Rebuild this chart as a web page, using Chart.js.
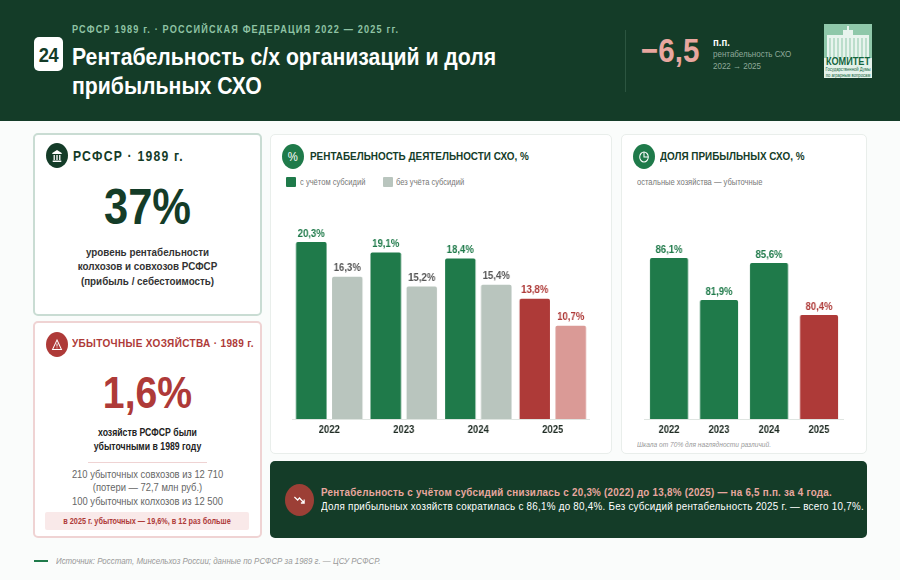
<!DOCTYPE html>
<html lang="ru">
<head>
<meta charset="utf-8">
<title>Рентабельность с/х организаций</title>
<script src="https://cdn.jsdelivr.net/npm/chart.js@4"></script>
<style>
  * { box-sizing: border-box; margin: 0; padding: 0; }
  html, body { width: 900px; height: 580px; overflow: hidden; background: #fafcfb; font-family: "Liberation Sans", Arial, sans-serif; }
  .abs { position: absolute; }
  .c { text-align: center; }
  /* в оригинале всё сжато по горизонтали */
  .sq { transform: scaleX(.87); transform-origin: 0 0; white-space: nowrap; }
  .sq.c { transform-origin: 50% 0; }
  header { position: absolute; left: 0; top: 0; width: 900px; height: 121px; background: #143c28; }
  .card { position: absolute; background: #fff; border-radius: 5px; }
  .dot { position: absolute; width: 22px; height: 25px; border-radius: 50%; display: flex; align-items: center; justify-content: center; }
  .wrap { position: absolute; transform-origin: 0 0; }
  canvas { display: block; }
</style>
</head>
<body>
<header></header>
<div class="abs sq" style="left:72px;top:23px;font-size:10.5px;font-weight:bold;letter-spacing:1.34px;color:#8fc3a4">РСФСР 1989 г. · РОССИЙСКАЯ ФЕДЕРАЦИЯ 2022 — 2025 гг.</div>
<div class="abs" style="left:34px;top:37px;width:29px;height:34px;background:#fff;border-radius:5px"></div>
<div class="abs c sq" style="left:34px;top:37px;width:29px;height:34px;line-height:35px;font-size:21px;font-weight:bold;color:#143c28;letter-spacing:-.5px">24</div>
<div class="abs sq" style="left:72px;top:42px;font-size:24.4px;line-height:29px;font-weight:bold;color:#fff">Рентабельность с/х организаций и доля<br>прибыльных СХО</div>
<div class="abs" style="left:625px;top:30px;width:1px;height:62px;background:#2c5540"></div>
<div class="abs sq" style="left:641px;top:31px;font-size:34px;font-weight:bold;color:#e8a79f">−6,5</div>
<div class="abs sq" style="left:713px;top:36px;font-size:11px;font-weight:bold;color:#fff">п.п.</div>
<div class="abs sq" style="left:713px;top:48px;font-size:9.2px;line-height:12px;color:#8fa99a">рентабельность СХО<br>2022 → 2025</div>
<div class="abs" style="left:824px;top:24px;width:48px;height:54px;background:#8fc8aa;overflow:hidden">
  <svg width="48" height="34" class="abs" style="left:0;top:0">
    <rect x="3" y="11" width="42" height="23" fill="#e8f4ee"/>
    <rect x="19" y="6" width="10" height="6" fill="#e8f4ee"/>
    <rect x="23" y="2" width="2" height="5" fill="#e8f4ee"/>
    <path d="M6 14v20M10 14v20M14 14v20M18 14v20M22 14v20M26 14v20M30 14v20M34 14v20M38 14v20M42 14v20" stroke="#8fc8aa" stroke-width="1"/>
  </svg>
  <div class="abs" style="left:0;top:34px;width:48px;height:20px;background:#e4f2ea"></div>
  <div class="abs c sq" style="left:-12px;top:31px;width:72px;font-size:10.5px;font-weight:bold;color:#14653f">КОМИТЕТ</div>
  <div class="abs c sq" style="left:-12px;top:43px;width:72px;font-size:4.8px;line-height:5.5px;color:#14653f">Государственной Думы<br>по аграрным вопросам</div>
</div>

<!-- левая колонка -->
<div class="card" style="left:33px;top:133px;width:229px;height:183px;border:2px solid #c9dcd3"></div>
<div class="dot" style="left:45.5px;top:143px;background:#143c28">
  <svg width="12" height="14" viewBox="0 0 14 14" preserveAspectRatio="none" fill="#fff"><path d="M7 1 1.5 4v1h11V4zM3 6h1.5v5H3zM6.2 6h1.6v5H6.2zM9.5 6H11v5H9.5zM2 11.5h10V13H2z"/></svg>
</div>
<div class="abs sq" style="left:73px;top:148px;font-size:14px;font-weight:bold;letter-spacing:1.4px;color:#143c28">РСФСР · 1989 г.</div>
<div class="abs c sq" style="left:33px;top:178px;width:229px;font-size:50px;font-weight:bold;color:#143c28">37%</div>
<div class="abs c sq" style="left:33px;top:245px;width:229px;font-size:11.3px;line-height:14.3px;font-weight:bold;color:#333">уровень рентабельности<br>колхозов и совхозов РСФСР<br>(прибыль / себестоимость)</div>

<div class="card" style="left:33px;top:321px;width:229px;height:217px;border:2px solid #efd3d3"></div>
<div class="dot" style="left:45.5px;top:332px;background:#ae3a38">
  <svg width="12" height="14" viewBox="0 0 14 14" preserveAspectRatio="none" fill="none" stroke="#fff" stroke-width="1.1"><path d="M7 2 1.8 11.5h10.4z"/><path d="M7 5.5v3M7 9.5v.8"/></svg>
</div>
<div class="abs sq" style="left:72px;top:337px;font-size:11.5px;font-weight:bold;letter-spacing:.4px;color:#ae3a38">УБЫТОЧНЫЕ ХОЗЯЙСТВА · 1989 г.</div>
<div class="abs c sq" style="left:33px;top:367px;width:229px;font-size:45px;font-weight:bold;color:#ae3a38">1,6%</div>
<div class="abs c sq" style="left:33px;top:426px;width:229px;font-size:10px;line-height:13.5px;font-weight:bold;color:#222">хозяйств РСФСР были<br>убыточными в 1989 году</div>
<div class="abs" style="left:88px;top:462px;width:119px;height:1px;background:#efd3d3"></div>
<div class="abs c sq" style="left:33px;top:468px;width:229px;font-size:10.8px;line-height:13.4px;color:#666">210 убыточных совхозов из 12 710<br>(потери — 72,7 млн руб.)<br>100 убыточных колхозов из 12 500</div>
<div class="abs" style="left:45px;top:512px;width:204px;height:18px;background:#f9e9e9;border-radius:2px"></div>
<div class="abs c sq" style="left:45px;top:512px;width:204px;height:18px;line-height:18px;font-size:8.4px;font-weight:bold;color:#ae3a38">в 2025 г. убыточных — 19,6%, в 12 раз больше</div>

<!-- карточка рентабельности -->
<div class="card" style="left:270px;top:134px;width:342px;height:320px;border:1px solid #e9eeeb"></div>
<div class="dot" style="left:282px;top:144px;background:#1f7a4a"><span class="sq" style="display:inline-block;color:#fff;font-size:13px;transform-origin:50% 50%">%</span></div>
<div class="abs sq" style="left:310px;top:150px;font-size:11.4px;font-weight:bold;color:#143c28">РЕНТАБЕЛЬНОСТЬ ДЕЯТЕЛЬНОСТИ СХО, %</div>
<div class="abs" style="left:286px;top:177px;width:10px;height:10px;border-radius:1px;background:#1f7a4a"></div>
<div class="abs sq" style="left:300px;top:177px;font-size:8.7px;color:#777">с учётом субсидий</div>
<div class="abs" style="left:383px;top:177px;width:10px;height:10px;border-radius:1px;background:#b9c5be"></div>
<div class="abs sq" style="left:396px;top:177px;font-size:8.7px;color:#777">без учёта субсидий</div>
<div class="wrap" style="left:292px;top:201px;transform:scaleX(.8688)"><canvas id="marginChart" width="343" height="239" style="width:343px;height:239px"></canvas></div>

<!-- карточка доли прибыльных -->
<div class="card" style="left:621px;top:134px;width:246px;height:320px;border:1px solid #e9eeeb"></div>
<div class="dot" style="left:633px;top:144px;background:#1f7a4a">
  <svg width="12" height="14" viewBox="0 0 14 14" preserveAspectRatio="none" fill="none" stroke="#fff" stroke-width="1.2"><circle cx="7" cy="7" r="5"/><path d="M7 2v5h5"/></svg>
</div>
<div class="abs sq" style="left:660px;top:150px;font-size:11.4px;font-weight:bold;color:#143c28">ДОЛЯ ПРИБЫЛЬНЫХ СХО, %</div>
<div class="abs sq" style="left:637px;top:177px;font-size:8.7px;color:#777">остальные хозяйства — убыточные</div>
<div class="wrap" style="left:644px;top:199px;transform:scaleX(.8696)"><canvas id="shareChart" width="230" height="241" style="width:230px;height:241px"></canvas></div>
<div class="abs sq" style="left:637px;top:440px;font-size:7.6px;font-style:italic;color:#999">Шкала от 70% для наглядности различий.</div>

<!-- вывод -->
<div class="card" style="left:270px;top:461px;width:597px;height:77px;background:#143c28"></div>
<div class="dot" style="left:285px;top:484px;width:29px;height:32px;background:#9c3f36">
  <svg width="13" height="14" viewBox="0 0 14 14" preserveAspectRatio="none" fill="none" stroke="#fff" stroke-width="1.3"><path d="M1.5 4 5 7l2-2 5 5M12 6.5V10H8.5"/></svg>
</div>
<div class="abs sq" style="left:321px;top:486px;font-size:11.3px;font-weight:bold;letter-spacing:.28px;color:#e8a79f">Рентабельность с учётом субсидий снизилась с 20,3% (2022) до 13,8% (2025) — на 6,5 п.п. за 4 года.</div>
<div class="abs sq" style="left:321px;top:500px;font-size:11.3px;letter-spacing:.29px;color:#fff">Доля прибыльных хозяйств сократилась с 86,1% до 80,4%. Без субсидий рентабельность 2025 г. — всего 10,7%.</div>

<div class="abs" style="left:34px;top:560px;width:14px;height:2px;background:#1f7a4a"></div>
<div class="abs sq" style="left:56px;top:556px;font-size:9.1px;font-style:italic;color:#999">Источник: Росстат, Минсельхоз России; данные по РСФСР за 1989 г. — ЦСУ РСФСР.</div>

<script>
// значения с картинки
const years = ["2022", "2023", "2024", "2025"]
const withSubsidy = [20.3, 19.1, 18.4, 13.8]
const withoutSubsidy = [16.3, 15.2, 15.4, 10.7]
const profitableShare = [86.1, 81.9, 85.6, 80.4]

const green = "#1f7a4a"
const grey = "#b9c5be"
const red = "#ae3a38"
const paleRed = "#da9a96"

// подписи над столбиками
const barLabels = {
  id: "barLabels",
  afterDatasetsDraw(chart) {
    const ctx = chart.ctx
    ctx.save()
    ctx.font = "bold 11px 'Liberation Sans', Arial, sans-serif"
    ctx.textAlign = "center"
    ctx.textBaseline = "bottom"
    chart.data.datasets.forEach((ds, i) => {
      chart.getDatasetMeta(i).data.forEach((bar, j) => {
        ctx.fillStyle = ds.labelColors[j]
        ctx.fillText(ds.data[j].toFixed(1).replace(".", ",") + "%", bar.x, bar.y - 3)
      })
    })
    ctx.restore()
  },
}

function makeChart(id, datasets, yMin, yMax) {
  return new Chart(document.getElementById(id), {
    type: "bar",
    data: { labels: years, datasets },
    plugins: [barLabels],
    options: {
      responsive: false,
      animation: false,
      layout: { padding: 0 },
      plugins: { legend: { display: false }, tooltip: { enabled: false } },
      scales: {
        x: {
          afterFit: (scale) => { scale.height = 21 },
          grid: { display: false, drawTicks: false },
          border: { color: "#dfe5e1", width: 1 },
          ticks: { color: "#1d2a22", padding: 5, font: { family: "'Liberation Sans', Arial, sans-serif", size: 10.8, weight: "bold" } },
        },
        y: { display: false, min: yMin, max: yMax },
      },
    },
  })
}

makeChart("marginChart", [
  {
    data: withSubsidy,
    backgroundColor: [green, green, green, red],
    labelColors: [green, green, green, red],
    categoryPercentage: 0.966,
    barPercentage: 0.847,
    borderRadius: 2,
    borderSkipped: "bottom",
  },
  {
    data: withoutSubsidy,
    backgroundColor: [grey, grey, grey, paleRed],
    labelColors: ["#555", "#555", "#555", red],
    categoryPercentage: 0.966,
    barPercentage: 0.847,
    borderRadius: 2,
    borderSkipped: "bottom",
  },
], 0, 25)

makeChart("shareChart", [
  {
    data: profitableShare,
    backgroundColor: [green, green, green, red],
    labelColors: [green, green, green, red],
    categoryPercentage: 1,
    barPercentage: 0.76,
    borderRadius: 2,
    borderSkipped: "bottom",
  },
], 70, 92)
</script>
</body>
</html>
